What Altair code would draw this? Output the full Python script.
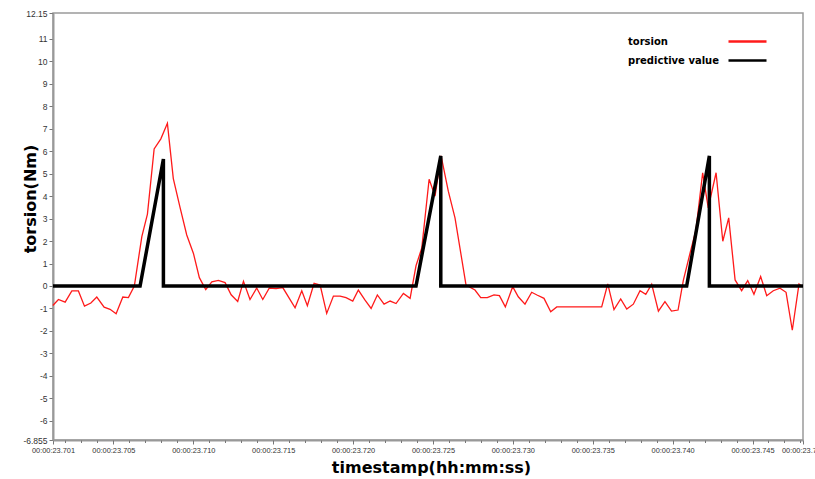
import altair as alt
import pandas as pd

# ---- data (time in ms after 00:00:23) ----
torsion_t = [701.21, 701.56, 701.98, 702.40, 702.81, 703.19, 703.59, 703.96, 704.42, 704.79,
             705.17, 705.59, 705.94, 706.31, 706.78, 707.13, 707.55, 707.97, 708.38, 708.75,
             709.17, 709.59, 710.01, 710.38, 710.78, 711.16, 711.57, 711.99, 712.37, 712.78,
             713.14, 713.55, 713.97, 714.35, 714.76, 715.18, 715.60, 716.37, 716.79, 717.14,
             717.56, 717.94, 718.35, 718.77, 719.19, 719.56, 719.98, 720.33, 720.75, 721.13,
             721.52, 721.94, 722.32, 722.69, 723.15, 723.57, 723.94, 724.30, 724.76, 725.13,
             725.51, 725.96, 726.38, 727.07, 727.63, 727.99, 728.40, 728.82, 729.16, 729.53,
             729.99, 730.34, 730.76, 731.18, 731.51, 731.95, 732.37, 732.75, 733.14, 733.55,
             733.95, 734.33, 734.74, 735.14, 735.56, 735.94, 736.33, 736.75, 737.13, 737.54,
             737.96, 738.32, 738.69, 739.11, 739.52, 739.93, 740.34, 740.67, 741.09, 741.46,
             741.88, 742.23, 742.72, 743.14, 743.51, 743.91, 744.32, 744.70, 745.09, 745.51,
             745.89, 746.30, 746.72, 747.10, 747.49, 747.91, 748.12]
torsion_v = [-0.87, -0.60, -0.72, -0.22, -0.22, -0.90, -0.76, -0.49, -0.94, -1.04,
             -1.24, -0.49, -0.52, 0.00, 2.20, 3.20, 6.10, 6.55, 7.24, 4.78,
             3.50, 2.27, 1.45, 0.37, -0.16, 0.18, 0.25, 0.15, -0.39, -0.69,
             0.21, -0.60, -0.09, -0.60, -0.09, -0.12, -0.07, -0.97, -0.21, -0.88,
             0.12, 0.04, -1.22, -0.45, -0.45, -0.52, -0.67, -0.18, -0.63, -1.00,
             -0.40, -0.81, -0.67, -0.78, -0.33, -0.55, 0.90, 1.69, 4.75, 4.00,
             5.79, 4.22, 3.03, 0.04, -0.18, -0.52, -0.52, -0.40, -0.43, -0.93,
             -0.03, -0.48, -0.81, -0.28, -0.40, -0.55, -1.15, -0.93, -0.93, -0.93,
             -0.93, -0.93, -0.93, -0.93, -0.93, 0.09, -1.05, -0.58, -1.03, -0.81,
             -0.21, -0.37, 0.08, -1.12, -0.70, -1.12, -1.07, 0.25, 1.46, 2.50,
             5.04, 3.48, 5.04, 1.99, 3.03, 0.27, -0.21, 0.24, -0.37, 0.42,
             -0.43, -0.21, -0.10, -0.28, -1.97, 0.09, -0.03]

pred_t = [701.22, 706.67, 708.13, 708.13, 723.94, 725.49, 725.49, 740.88, 742.30, 742.30, 748.16]
pred_v = [0.0, 0.0, 5.65, 0.0, 0.0, 5.79, 0.0, 0.0, 5.79, 0.0, 0.0]

series_names = ["torsion", "predictive value"]
series_colors = ["#ff1a1a", "#000000"]

x_domain = [701.22, 748.16]
y_domain = [-6.855, 12.15]
x_major_ticks = [701.22, 705, 710, 715, 720, 725, 730, 735, 740, 745, 748.16]
x_minor_ticks = list(range(702, 749))
y_ticks = [-6.855, -6, -5, -4, -3, -2, -1, 0, 1, 2, 3, 4, 5, 6, 7, 8, 9, 10, 11, 12.15]

torsion_df = pd.DataFrame({"t": torsion_t, "v": torsion_v,
                           "i": list(range(len(torsion_t))), "s": series_names[0]})
pred_df = pd.DataFrame({"t": pred_t, "v": pred_v,
                        "i": list(range(len(pred_t))), "s": series_names[1]})

xscale = alt.Scale(domain=x_domain, nice=False, zero=False)
yscale = alt.Scale(domain=y_domain, nice=False, zero=False)
cscale = alt.Scale(domain=series_names, range=series_colors)

legend = alt.Legend(
    title=None, orient="none", legendX=689, legendY=23,
    symbolType="M-5,0H5", symbolSize=57.76, symbolStrokeWidth=2.5,
    labelFont="DejaVu Sans", labelFontWeight="bold", labelFontSize=10,
    labelColor="#000000", labelOffset={"expr": "-125"},
    rowPadding=8,
)

x_major_axis = alt.Axis(
    orient="bottom", values=x_major_ticks,
    labelExpr="'00:00:23.' + format(round(datum.value), 'd')",
    labelFont="Liberation Sans", labelFontSize=7.4, labelColor="#333333",
    labelOverlap=False, labelFlush=False, labelPadding=2,
    tickSize=4, tickColor="#777777", domainColor="#999999", domainWidth=2,
    grid=False,
    title="timestamp(hh:mm:ss)", titleFont="DejaVu Sans", titleFontWeight="bold",
    titleFontSize=16, titleColor="#000000", titleX=378, titleY=27,
    titleBaseline="middle", titleAlign="center",
)
x_minor_axis = alt.Axis(
    orient="bottom", values=x_minor_ticks, labels=False, domain=False,
    tickSize=2.5, tickColor="#777777", grid=False, title=None,
)
y_axis = alt.Axis(
    values=y_ticks, labelExpr="'' + datum.value",
    labelFont="Liberation Sans", labelFontSize=8.5, labelColor="#333333",
    labelPadding=2, tickSize=4, tickColor="#777777",
    domainColor="#999999", domainWidth=2, grid=False,
    title="torsion(Nm)", titleFont="DejaVu Sans", titleFontWeight="bold",
    titleFontSize=16, titleColor="#000000", titleX=-23, titleY=185.5,
    titleAngle=270, titleBaseline="middle", titleAlign="center",
)

red = alt.Chart(torsion_df).mark_line(strokeWidth=1.3).encode(
    x=alt.X("t:Q", scale=xscale, axis=x_major_axis),
    y=alt.Y("v:Q", scale=yscale, axis=y_axis),
    color=alt.Color("s:N", scale=cscale, legend=legend),
    order=alt.Order("i:Q"),
)
black = alt.Chart(pred_df).mark_line(strokeWidth=3.5, strokeJoin="miter", strokeCap="butt").encode(
    x=alt.X("t:Q", scale=xscale, axis=x_minor_axis),
    y=alt.Y("v:Q", scale=yscale, axis=y_axis),
    color=alt.Color("s:N", scale=cscale, legend=legend),
    order=alt.Order("i:Q"),
)

chart = alt.layer(red, black).resolve_axis(x="independent").properties(
    width=750, height=427,
    padding={"left": 53, "top": 13, "right": 12, "bottom": 39},
    autosize=alt.AutoSizeParams(type="none"),
    background="white",
).configure_view(stroke="#9a9a9a", strokeWidth=1.5)

chart.save("out.html", embed_options={"renderer": "svg", "actions": False})
